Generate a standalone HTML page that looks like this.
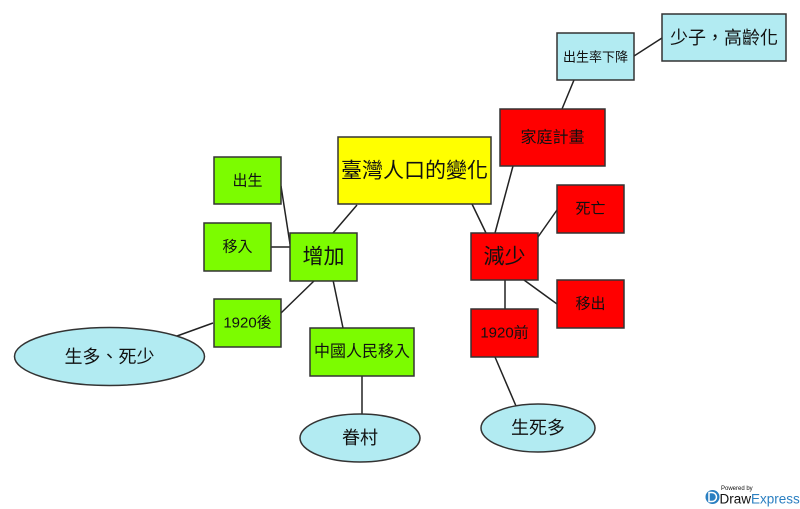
<!DOCTYPE html>
<html><head><meta charset="utf-8"><style>
html,body{margin:0;padding:0;background:#fff;}
svg{display:block;}
text{font-family:"Liberation Sans","Noto Sans CJK TC","Noto Sans CJK SC",sans-serif;fill:#111;}
</style></head><body>
<svg width="800" height="509" viewBox="0 0 800 509" xmlns="http://www.w3.org/2000/svg">
<g stroke="#222" stroke-width="1.5" fill="none">
<line x1="281" y1="186" x2="290" y2="244"/>
<line x1="271" y1="247" x2="290" y2="247"/>
<line x1="357" y1="205" x2="333" y2="233"/>
<line x1="472" y1="204" x2="486" y2="233"/>
<line x1="513" y1="166" x2="495" y2="233"/>
<line x1="574" y1="80" x2="562" y2="109"/>
<line x1="634" y1="56" x2="662" y2="38"/>
<line x1="538" y1="237" x2="557" y2="210"/>
<line x1="524" y1="280" x2="557" y2="304"/>
<line x1="505" y1="280" x2="505" y2="309"/>
<line x1="495" y1="357" x2="516" y2="406"/>
<line x1="281" y1="313" x2="315" y2="280"/>
<line x1="213" y1="323" x2="177" y2="336"/>
<line x1="333" y1="280" x2="343" y2="328"/>
<line x1="362" y1="376" x2="362" y2="414"/>
</g>
<g stroke="#333" stroke-width="1.5">
<rect x="338" y="137" width="153" height="67" fill="#ffff00"/>
<rect x="214" y="157" width="67" height="47" fill="#7cfc00"/>
<rect x="204" y="223" width="67" height="48" fill="#7cfc00"/>
<rect x="290" y="233" width="67" height="48" fill="#7cfc00"/>
<rect x="214" y="299" width="67" height="48" fill="#7cfc00"/>
<rect x="310" y="328" width="104" height="48" fill="#7cfc00"/>
<rect x="500" y="109" width="105" height="57" fill="#ff0000"/>
<rect x="557" y="33" width="77" height="47" fill="#b2ebf2"/>
<rect x="662" y="14" width="124" height="47" fill="#b2ebf2"/>
<rect x="471" y="233" width="67" height="47" fill="#ff0000"/>
<rect x="557" y="185" width="67" height="48" fill="#ff0000"/>
<rect x="557" y="280" width="67" height="48" fill="#ff0000"/>
<rect x="471" y="309" width="67" height="48" fill="#ff0000"/>
<ellipse cx="109.5" cy="356.5" rx="95" ry="29" fill="#b2ebf2"/>
<ellipse cx="360" cy="438" rx="60" ry="24" fill="#b2ebf2"/>
<ellipse cx="538" cy="428" rx="57" ry="24" fill="#b2ebf2"/>
</g>
<g text-anchor="middle" dominant-baseline="central">
<text x="414.5" y="171" font-size="21">臺灣人口的變化</text>
<text x="247.5" y="181" font-size="15">出生</text>
<text x="237.5" y="247" font-size="15">移入</text>
<text x="323.5" y="257" font-size="21">增加</text>
<text x="247.5" y="323" font-size="15">1920後</text>
<text x="362" y="352" font-size="16">中國人民移入</text>
<text x="552.5" y="138" font-size="16">家庭計畫</text>
<text x="595.5" y="57" font-size="13">出生率下降</text>
<text x="724" y="38" font-size="18">少子，高齡化</text>
<text x="504.5" y="257" font-size="21">減少</text>
<text x="590.5" y="209" font-size="15">死亡</text>
<text x="590.5" y="304" font-size="15">移出</text>
<text x="504.5" y="333" font-size="15">1920前</text>
<text x="109.5" y="357" font-size="18">生多、死少</text>
<text x="360" y="438" font-size="18">眷村</text>
<text x="538" y="428" font-size="18">生死多</text>
</g>
<g>
<circle cx="712.5" cy="497" r="7" fill="#2a7fc1"/>
<path d="M709 492.5 h3 a4.5 4.5 0 0 1 0 9 h-3 z" fill="none" stroke="#fff" stroke-width="1.5"/>
<text x="721" y="490" font-size="6" fill="#444">Powered by</text>
<text x="719.5" y="503.5" font-size="13.5" fill="#444">Draw<tspan fill="#2a7fc1">Express</tspan></text>
</g>
</svg>
</body></html>
